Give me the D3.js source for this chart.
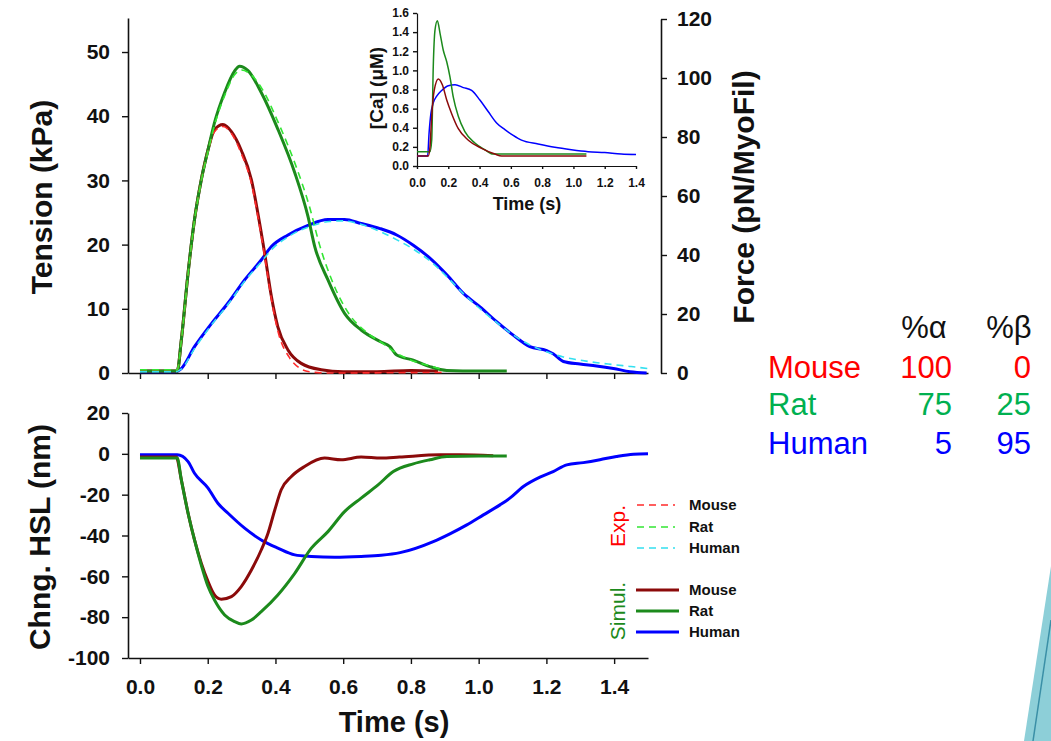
<!DOCTYPE html>
<html>
<head>
<meta charset="utf-8">
<script src="https://cdn.jsdelivr.net/npm/d3@7"></script>
<style>
  html, body { margin: 0; padding: 0; background: #fff; }
  svg { display: block; }
  text { font-family: "Liberation Sans", Arial, sans-serif; }
</style>
</head>
<body>
<svg id="chart" width="1051" height="741"></svg>
<script>
// ---------------- DATA ----------------
// Tension (kPa) vs time (s), simulation
const mouseTensionSim = [[0,0.3],[0.11,0.3],[0.122,5.1],[0.142,15.6],[0.161,23.9],[0.181,30.1],[0.201,34.8],[0.220,37.9],[0.245,38.7],[0.270,37.6],[0.299,34.7],[0.329,30.1],[0.348,24.9],[0.368,18.7],[0.388,11.9],[0.407,7.2],[0.437,3.6],[0.476,1.5],[0.535,0.5],[0.6,0.2],[0.7,0.2],[0.8,0.4],[0.88,0.3]];
const ratTensionSim = [[0,0.3],[0.11,0.3],[0.122,5.1],[0.142,15.6],[0.161,23.9],[0.181,30.1],[0.201,34.8],[0.220,39.0],[0.250,43.7],[0.280,47.1],[0.294,47.8],[0.319,47.1],[0.358,43.7],[0.407,38.0],[0.457,31.2],[0.496,24.4],[0.516,19.7],[0.555,14.5],[0.604,9.3],[0.653,6.7],[0.709,4.9],[0.738,4.1],[0.758,2.8],[0.807,2.0],[0.856,1.0],[0.906,0.4],[1.0,0.3],[1.083,0.3]];
const humanTensionSim = [[0,0.2],[0.102,0.2],[0.122,0.7],[0.161,4.1],[0.211,7.7],[0.260,10.9],[0.309,14.5],[0.358,17.6],[0.388,19.7],[0.437,21.5],[0.496,23.0],[0.555,23.9],[0.604,23.9],[0.653,23.3],[0.709,22.5],[0.758,21.5],[0.807,19.9],[0.856,17.9],[0.906,15.3],[0.955,12.4],[1.004,10.3],[1.053,8.0],[1.102,5.9],[1.151,4.1],[1.201,3.5],[1.220,3.0],[1.250,1.8],[1.299,1.4],[1.348,1.1],[1.398,0.7],[1.447,0.2],[1.496,0.0]];
// Tension (kPa), experiment
const mouseTensionExp = [[0,0.5],[0.11,0.5],[0.122,5.0],[0.142,15.4],[0.161,23.7],[0.181,30.0],[0.201,34.6],[0.220,37.6],[0.245,38.4],[0.270,37.3],[0.299,34.2],[0.330,29.3],[0.350,23.8],[0.370,17.6],[0.390,10.9],[0.410,6.0],[0.440,2.5],[0.470,0.8],[0.500,0.2],[0.55,0.0],[0.9,0.1]];
const ratTensionExp = [[0,0.5],[0.11,0.5],[0.122,5.0],[0.142,15.4],[0.161,23.7],[0.181,29.9],[0.201,34.5],[0.220,38.6],[0.250,43.2],[0.280,46.5],[0.300,47.2],[0.325,46.6],[0.360,44.3],[0.410,38.8],[0.460,32.3],[0.500,26.0],[0.530,20.0],[0.570,14.0],[0.620,9.0],[0.670,6.3],[0.720,4.5],[0.760,3.0],[0.800,2.0],[0.850,1.2],[0.890,0.6]];
const humanTensionExp = [[0,0.2],[0.102,0.2],[0.122,0.6],[0.161,3.8],[0.211,7.5],[0.260,10.7],[0.309,14.3],[0.358,17.3],[0.390,19.3],[0.440,21.3],[0.500,22.8],[0.560,23.6],[0.600,23.7],[0.650,23.2],[0.710,22.0],[0.760,20.7],[0.810,19.2],[0.860,17.3],[0.910,14.8],[0.960,12.1],[1.000,10.2],[1.050,8.0],[1.100,6.0],[1.150,4.4],[1.200,3.3],[1.250,2.5],[1.300,2.0],[1.350,1.6],[1.400,1.3],[1.450,1.0],[1.500,0.7]];
// Change in half-sarcomere length (nm), simulation
const mouseHSL = [[0,-1.6],[0.107,-1.6],[0.122,-12.7],[0.142,-29.1],[0.161,-42.2],[0.181,-53.6],[0.201,-62.6],[0.220,-69.1],[0.240,-71.2],[0.270,-69.9],[0.299,-65.0],[0.329,-56.9],[0.358,-47.1],[0.378,-38.9],[0.398,-27.5],[0.417,-17.6],[0.447,-11.1],[0.486,-6.2],[0.545,-2.1],[0.594,-2.9],[0.653,-1.6],[0.712,-2.1],[0.766,-1.6],[0.886,-0.5],[0.945,-0.5],[1.043,-1.0]];
const ratHSL = [[0,-2.1],[0.11,-2.1],[0.122,-12.7],[0.142,-29.1],[0.161,-42.2],[0.181,-54.5],[0.201,-65.0],[0.220,-71.6],[0.250,-78.9],[0.280,-82.2],[0.299,-83.3],[0.329,-81.4],[0.358,-77.3],[0.407,-69.1],[0.457,-58.5],[0.506,-46.2],[0.555,-38.1],[0.604,-28.3],[0.653,-21.7],[0.703,-15.2],[0.748,-8.7],[0.807,-4.9],[0.856,-2.9],[0.906,-1.3],[1.0,-1.0],[1.083,-1.0]];
const humanHSL = [[0,-0.5],[0.11,-0.5],[0.142,-3.8],[0.161,-9.5],[0.201,-16.8],[0.230,-24.2],[0.260,-29.1],[0.309,-36.4],[0.358,-42.2],[0.407,-46.2],[0.457,-49.5],[0.506,-50.3],[0.575,-50.7],[0.653,-50.3],[0.712,-49.7],[0.768,-48.4],[0.866,-43.0],[0.915,-39.2],[0.965,-34.8],[1.014,-29.9],[1.063,-25.0],[1.092,-21.7],[1.132,-16.0],[1.181,-11.4],[1.220,-8.7],[1.260,-5.4],[1.309,-4.3],[1.358,-2.9],[1.407,-1.3],[1.457,-0.2],[1.5,0]];
// Inset: [Ca] (uM)
const mouseCa = [[0,0.105],[0.072,0.105],[0.083,0.20],[0.094,0.52],[0.110,0.79],[0.136,0.91],[0.162,0.85],[0.190,0.69],[0.221,0.55],[0.264,0.39],[0.328,0.27],[0.413,0.185],[0.498,0.125],[0.541,0.105],[1.083,0.105]];
const ratCa = [[0,0.15],[0.083,0.15],[0.094,0.27],[0.104,1.04],[0.115,1.42],[0.130,1.52],[0.147,1.39],[0.168,1.21],[0.190,1.09],[0.211,0.93],[0.232,0.72],[0.264,0.52],[0.306,0.36],[0.370,0.24],[0.434,0.17],[0.487,0.125],[1.083,0.125]];
const humanCa = [[0,0.105],[0.068,0.105],[0.077,0.34],[0.089,0.55],[0.104,0.66],[0.126,0.73],[0.158,0.79],[0.200,0.84],[0.243,0.85],[0.296,0.82],[0.349,0.79],[0.402,0.69],[0.455,0.57],[0.509,0.45],[0.562,0.38],[0.615,0.32],[0.668,0.27],[0.774,0.23],[0.881,0.195],[0.987,0.17],[1.094,0.15],[1.2,0.14],[1.306,0.125],[1.40,0.12]];

// Tick values
const timeTicks = [0, 0.2, 0.4, 0.6, 0.8, 1.0, 1.2, 1.4];
const tensionTicks = [0, 10, 20, 30, 40, 50];
const forceTicks = [0, 20, 40, 60, 80, 100, 120];
const hslTicks = [20, 0, -20, -40, -60, -80, -100];
const caTicks = [0, 0.2, 0.4, 0.6, 0.8, 1.0, 1.2, 1.4, 1.6];
const insetTimeTicks = [0, 0.2, 0.4, 0.6, 0.8, 1.0, 1.2, 1.4];

// Legend / table
const species = ["Mouse", "Rat", "Human"];
const pctAlpha = [100, 75, 5];
const pctBeta = [0, 25, 95];

// ---------------- STYLE ----------------
const simColor = { Mouse: "#8b0a0a", Rat: "#1c8a1c", Human: "#0000ff" };
const expColor = { Mouse: "#ff2a2a", Rat: "#33e633", Human: "#33e0f0" };
const tableColor = { Mouse: "#ff0000", Rat: "#00b050", Human: "#0000ff" };
const intFmt = d => String(d);

const svg = d3.select("#chart");

// ---------------- SCALES ----------------
const x = d3.scaleLinear().domain([-0.0354, 1.5]).range([128, 648]);
const yT = d3.scaleLinear().domain([0, 55.3]).range([373, 18]);
const yF = d3.scaleLinear().domain([0, 120]).range([373, 19]);
const yH = d3.scaleLinear().domain([-100, 20]).range([658, 413]);
const xi = d3.scaleLinear().domain([0, 1.4]).range([417, 636]);
const yi = d3.scaleLinear().domain([0, 1.6]).range([166, 13]);

function styleAxis(g, fs) {
  g.selectAll("path.domain").attr("stroke", "#111").attr("stroke-width", 1.6);
  g.selectAll(".tick line").attr("stroke", "#111").attr("stroke-width", 1.4);
  g.selectAll(".tick text").attr("fill", "#111").style("font-family", '"Liberation Sans", Arial, sans-serif')
    .style("font-weight", "bold").style("font-size", fs + "px");
}

// ---------------- TOP CHART ----------------
const gTop = svg.append("g");
gTop.append("g").attr("transform", "translate(128,0)")
  .call(d3.axisLeft(yT).tickValues(tensionTicks).tickFormat(intFmt).tickSize(6).tickSizeOuter(0).tickPadding(12))
  .call(g => styleAxis(g, 21));
gTop.append("g").attr("transform", "translate(661,0)")
  .call(d3.axisRight(yF).tickValues(forceTicks).tickFormat(intFmt).tickSize(6).tickSizeOuter(0).tickPadding(10))
  .call(g => styleAxis(g, 21));
gTop.append("g").attr("transform", "translate(0,373)")
  .call(d3.axisBottom(x).tickValues(timeTicks).tickFormat("").tickSize(6).tickSizeOuter(0))
  .call(g => styleAxis(g, 21));

const lineT = d3.line().x(d => x(d[0])).y(d => yT(d[1])).curve(d3.curveMonotoneX);
const expT = { Mouse: mouseTensionExp, Rat: ratTensionExp, Human: humanTensionExp };
const simT = { Mouse: mouseTensionSim, Rat: ratTensionSim, Human: humanTensionSim };
["Human", "Mouse", "Rat"].forEach(s => {
  gTop.append("path").datum(simT[s]).attr("d", lineT).attr("fill", "none")
    .attr("stroke", simColor[s]).attr("stroke-width", 3).attr("stroke-linejoin", "round");
});
["Human", "Mouse", "Rat"].forEach(s => {
  gTop.append("path").datum(expT[s]).attr("d", lineT).attr("fill", "none")
    .attr("stroke", expColor[s]).attr("stroke-width", 1.6).attr("stroke-dasharray", "7,5");
});

gTop.append("text").attr("transform", "translate(52,197) rotate(-90)").attr("text-anchor", "middle")
  .style("font-weight", "bold").style("font-size", "30px").attr("fill", "#111").text("Tension (kPa)");
gTop.append("text").attr("transform", "translate(754,197) rotate(-90)").attr("text-anchor", "middle")
  .style("font-weight", "bold").style("font-size", "30px").attr("fill", "#111").text("Force (pN/MyoFil)");

// ---------------- INSET ----------------
const gIn = svg.append("g");
gIn.append("g").attr("transform", "translate(417,0)")
  .call(d3.axisLeft(yi).tickValues(caTicks).tickFormat(d3.format(".1f")).tickSize(4).tickSizeOuter(0).tickPadding(4))
  .call(g => styleAxis(g, 12));
gIn.append("g").attr("transform", "translate(0,166)")
  .call(d3.axisBottom(xi).tickValues(insetTimeTicks).tickFormat(d3.format(".1f")).tickSize(3).tickSizeOuter(0).tickPadding(9))
  .call(g => styleAxis(g, 12));
gIn.selectAll("path.domain").attr("stroke-width", 1.2);
const lineI = d3.line().x(d => xi(d[0])).y(d => yi(d[1])).curve(d3.curveMonotoneX);
const caData = { Mouse: mouseCa, Rat: ratCa, Human: humanCa };
["Human", "Rat", "Mouse"].forEach(s => {
  gIn.append("path").datum(caData[s]).attr("d", lineI).attr("fill", "none")
    .attr("stroke", simColor[s]).attr("stroke-width", 1.5);
});
gIn.append("text").attr("transform", "translate(383,88) rotate(-90)").attr("text-anchor", "middle")
  .attr("font-size", 19).style("font-size", "19px").style("font-weight", "bold").attr("fill", "#111")
  .text("[Ca] (\u03BCM)");
gIn.append("text").attr("x", 527).attr("y", 210).attr("text-anchor", "middle")
  .style("font-weight", "bold").style("font-size", "18px").attr("fill", "#111").text("Time (s)");

// ---------------- BOTTOM CHART ----------------
const gBot = svg.append("g");
gBot.append("g").attr("transform", "translate(128,0)")
  .call(d3.axisLeft(yH).tickValues(hslTicks).tickFormat(intFmt).tickSize(6).tickSizeOuter(0).tickPadding(12))
  .call(g => styleAxis(g, 21));
gBot.append("g").attr("transform", "translate(0,658)")
  .call(d3.axisBottom(x).tickValues(timeTicks).tickFormat(d3.format(".1f")).tickSize(6).tickSizeOuter(0).tickPadding(15))
  .call(g => styleAxis(g, 21));

const lineH = d3.line().x(d => x(d[0])).y(d => yH(d[1])).curve(d3.curveMonotoneX);
const hslData = { Mouse: mouseHSL, Rat: ratHSL, Human: humanHSL };
["Human", "Mouse", "Rat"].forEach(s => {
  gBot.append("path").datum(hslData[s]).attr("d", lineH).attr("fill", "none")
    .attr("stroke", simColor[s]).attr("stroke-width", 3).attr("stroke-linejoin", "round");
});

gBot.append("text").attr("transform", "translate(50,537) rotate(-90)").attr("text-anchor", "middle")
  .style("font-weight", "bold").style("font-size", "30px").attr("fill", "#111").text("Chng. HSL (nm)");
gBot.append("text").attr("x", 394).attr("y", 732).attr("text-anchor", "middle")
  .style("font-weight", "bold").style("font-size", "29px").attr("fill", "#111").text("Time (s)");

// ---------------- LEGEND ----------------
const gLeg = svg.append("g");
const legExpY = [505, 527, 548];
const legSimY = [590, 611, 632];
species.forEach((s, i) => {
  gLeg.append("line").attr("x1", 637).attr("x2", 675).attr("y1", legExpY[i]).attr("y2", legExpY[i])
    .attr("stroke", expColor[s]).attr("stroke-width", 1.6).attr("stroke-dasharray", "7,5");
  gLeg.append("text").attr("x", 689).attr("y", legExpY[i]).attr("dy", "0.36em")
    .style("font-weight", "bold").style("font-size", "15px").attr("fill", "#111").text(s);
  gLeg.append("line").attr("x1", 636).attr("x2", 679).attr("y1", legSimY[i]).attr("y2", legSimY[i])
    .attr("stroke", simColor[s]).attr("stroke-width", 3);
  gLeg.append("text").attr("x", 689).attr("y", legSimY[i]).attr("dy", "0.36em")
    .style("font-weight", "bold").style("font-size", "15px").attr("fill", "#111").text(s);
});
gLeg.append("text").attr("transform", "translate(625,526) rotate(-90)").attr("text-anchor", "middle")
  .style("font-size", "21px").attr("fill", "#ff0000").text("Exp.");
gLeg.append("text").attr("transform", "translate(625,611) rotate(-90)").attr("text-anchor", "middle")
  .style("font-size", "21px").attr("fill", "#1c8a1c").text("Simul.");

// ---------------- TABLE ----------------
const gTab = svg.append("g").style("font-size", "31px");
gTab.append("text").attr("x", 924).attr("y", 338).attr("text-anchor", "middle").attr("fill", "#111").text("%\u03B1");
gTab.append("text").attr("x", 1009).attr("y", 338).attr("text-anchor", "middle").attr("fill", "#111").text("%\u03B2");
const rowY = [378, 415, 454];
species.forEach((s, i) => {
  gTab.append("text").attr("x", 768).attr("y", rowY[i]).attr("fill", tableColor[s]).text(s);
  gTab.append("text").attr("x", 952).attr("y", rowY[i]).attr("text-anchor", "end").attr("fill", tableColor[s]).text(pctAlpha[i]);
  gTab.append("text").attr("x", 1031).attr("y", rowY[i]).attr("text-anchor", "end").attr("fill", tableColor[s]).text(pctBeta[i]);
});

// ---------------- SLIDE DECORATION ----------------
const gDec = svg.append("g");
gDec.append("polygon").attr("points", "1051,566 1024,741 1051,741").attr("fill", "#8dcfd8");
gDec.append("line").attr("x1", 1051).attr("y1", 620).attr("x2", 1033).attr("y2", 741)
  .attr("stroke", "#3a8fa6").attr("stroke-width", 1.5);
</script>
</body>
</html>
